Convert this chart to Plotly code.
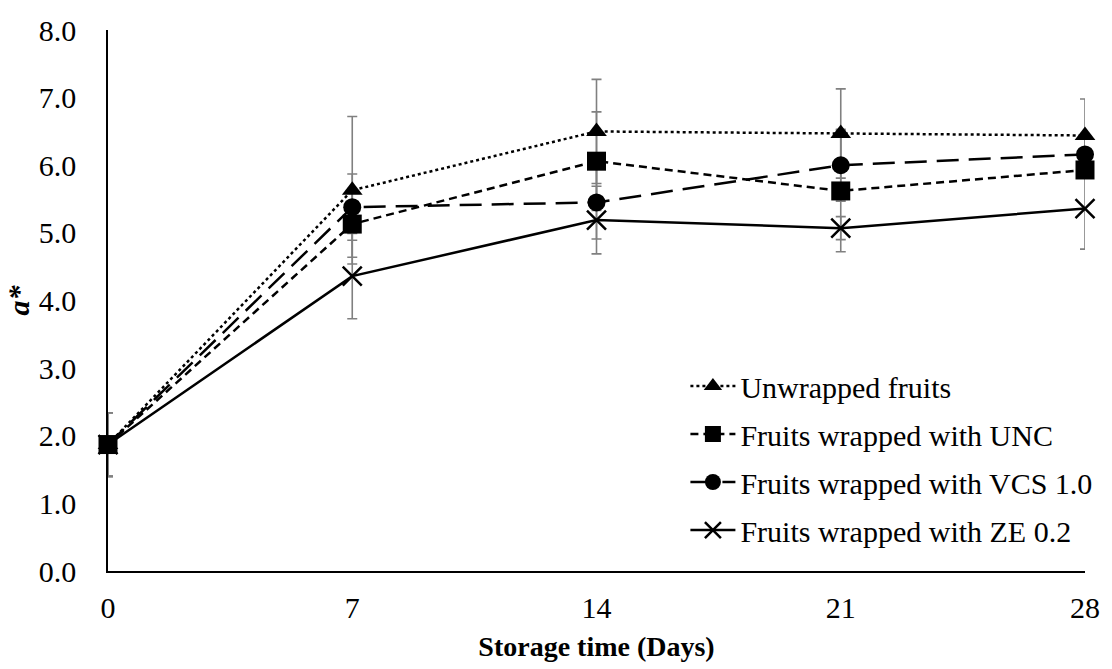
import plotly.graph_objects as go

# Storage days
days = [0, 7, 14, 21, 28]

# a* means per treatment
unwrapped = [1.87, 5.63, 6.50, 6.47, 6.44]
unc = [1.87, 5.13, 6.06, 5.62, 5.93]
vcs = [1.87, 5.38, 5.45, 6.00, 6.16]
ze = [1.87, 4.36, 5.19, 5.07, 5.36]

# standard deviations
unwrapped_sd = [0.47, 1.09, 0.77, 0.66, 0.54]
unc_sd = [0.47, 0.49, 0.73, 0.90, 0.12]
vcs_sd = [0.47, 0.49, 0.54, 0.53, 0.25]
ze_sd = [0.47, 0.63, 0.50, 0.17, 0.60]

names = [
    "Unwrapped fruits",
    "Fruits wrapped with UNC",
    "Fruits wrapped with VCS 1.0",
    "Fruits wrapped with ZE 0.2",
]
tick_vals_x = [0, 7, 14, 21, 28]
tick_vals_y = [0, 1, 2, 3, 4, 5, 6, 7, 8]

series = [unwrapped, unc, vcs, ze]
sds = [unwrapped_sd, unc_sd, vcs_sd, ze_sd]
dashes = ["dot", "8px,5px", "22px,10px", "solid"]
symbols = ["triangle-up", "square", "circle", "x-thin"]
sizes = [18, 19, 18, 19]
# drawing order: the UNC squares sit on top of the others
draw_order = [0, 2, 3, 1]

FONT = "Liberation Serif, Times New Roman, serif"

fig = go.Figure()

# grey error bars underneath the lines
for vals, sd in zip(series, sds):
    fig.add_trace(go.Scatter(
        x=days, y=vals, mode="markers",
        marker=dict(size=1, color="rgba(0,0,0,0)"),
        error_y=dict(type="data", array=sd, visible=True,
                     color="#808080", thickness=1.6, width=5),
        showlegend=False, hoverinfo="skip", cliponaxis=False,
    ))

for i in draw_order:
    vals, name, sym = series[i], names[i], symbols[i]
    marker = dict(symbol=sym, size=sizes[i], color="black",
                  line=dict(color="black", width=2.5 if sym == "x-thin" else 0))
    fig.add_trace(go.Scatter(
        x=days, y=vals, name=name, mode="lines+markers",
        line=dict(color="black", width=2.5, dash=dashes[i]),
        marker=marker, legendgroup=name, legendrank=i + 1, cliponaxis=False,
    ))

fig.update_layout(
    width=1112, height=669,
    margin=dict(l=108, r=17, t=30, b=90),
    paper_bgcolor="white", plot_bgcolor="white",
    font=dict(family=FONT, color="black", size=30),
    showlegend=True,
    legend=dict(
        x=0.591, y=0.39, xanchor="left", yanchor="top",
        bgcolor="rgba(0,0,0,0)", font=dict(size=30, family=FONT),
        itemwidth=45, tracegroupgap=6, traceorder="grouped",
    ),
)

fig.update_xaxes(
    range=[0, 28], tickvals=tick_vals_x, ticktext=[str(v) for v in tick_vals_x],
    showgrid=False, zeroline=False, showline=True, linecolor="black", linewidth=1.5,
    ticks="", ticklabelstandoff=9, tickfont=dict(size=30, family=FONT),
    title=dict(text="<b>Storage time (Days)</b>", font=dict(size=28, family=FONT), standoff=14),
)
fig.update_yaxes(
    range=[0, 8], tickvals=tick_vals_y, ticktext=[f"{v:.1f}" for v in tick_vals_y],
    showgrid=False, zeroline=False, showline=True, linecolor="black", linewidth=1.5,
    ticks="", ticklabelstandoff=24, tickfont=dict(size=30, family=FONT),
    title=dict(text="<b><i>a*</i></b>", font=dict(size=30, family=FONT), standoff=0),
)

fig.write_html("out.html")
